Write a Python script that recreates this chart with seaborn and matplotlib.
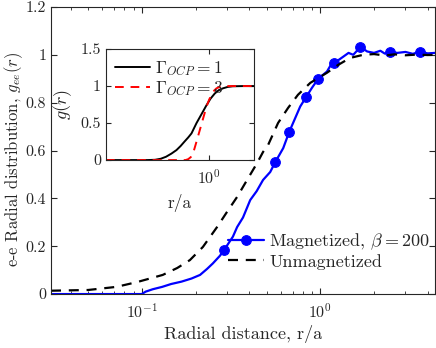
import numpy as np
import pandas as pd
import seaborn as sns
import matplotlib
matplotlib.use("Agg")
import matplotlib.pyplot as plt

# main panel: e-e radial distribution
mag_r = [0.031, 0.05, 0.08, 0.1, 0.105, 0.115, 0.13, 0.146, 0.167, 0.19, 0.212,
         0.232, 0.25, 0.274, 0.289, 0.324, 0.342, 0.369, 0.405, 0.44, 0.478, 0.524,
         0.56, 0.62, 0.67, 0.772, 0.834, 0.898, 0.974, 1.09, 1.14, 1.2, 1.35, 1.44,
         1.53, 1.68, 1.83, 2.0, 2.17, 2.3, 2.47, 2.7, 3.0, 3.3, 3.6, 4.0, 4.4]
mag_g = [0.0, 0.0, 0.0, 0.0, 0.01, 0.02, 0.03, 0.042, 0.052, 0.065, 0.08,
         0.105, 0.128, 0.16, 0.184, 0.24, 0.28, 0.32, 0.393, 0.43, 0.477, 0.51,
         0.552, 0.61, 0.678, 0.784, 0.824, 0.862, 0.90, 0.93, 0.955, 0.966, 0.993, 1.008,
         1.0, 1.033, 1.014, 1.008, 1.017, 1.005, 1.013, 1.008, 1.012, 1.004, 1.013, 1.006, 1.008]
mag_marks = [0.289, 0.56, 0.67, 0.834, 0.974, 1.2, 1.68, 2.47, 3.6]

unmag_r = [0.031, 0.05, 0.072, 0.094, 0.131, 0.158, 0.186, 0.22, 0.264, 0.30, 0.342,
           0.389, 0.443, 0.478, 0.51, 0.58, 0.66, 0.75, 0.88, 1.09, 1.26, 1.47, 1.74,
           2.0, 2.3, 2.6, 3.0, 3.5, 4.0, 4.4]
unmag_g = [0.014, 0.017, 0.03, 0.05, 0.08, 0.109, 0.142, 0.197, 0.28, 0.343, 0.406,
           0.477, 0.548, 0.594, 0.623, 0.715, 0.778, 0.833, 0.883, 0.925, 0.958, 0.987, 1.0,
           1.003, 0.997, 1.002, 0.998, 1.001, 0.999, 1.0]

# inset: OCP g(r)
ocp1_r = [0.2, 0.3, 0.38, 0.43, 0.47, 0.51, 0.555, 0.6, 0.64, 0.68, 0.72, 0.758,
          0.82, 0.886, 0.957, 1.02, 1.09, 1.16, 1.24, 1.33, 1.44, 1.7, 2.0]
ocp1_g = [0.0, 0.0, 0.0, 0.004, 0.018, 0.045, 0.088, 0.135, 0.19, 0.25, 0.305, 0.36,
          0.5, 0.62, 0.74, 0.83, 0.9, 0.945, 0.97, 0.988, 0.997, 1.0, 1.0]
ocp3_r = [0.2, 0.4, 0.6, 0.69, 0.72, 0.75, 0.777, 0.82, 0.863, 0.908, 0.957, 1.0,
          1.035, 1.08, 1.12, 1.21, 1.5, 2.0]
ocp3_g = [0.0, 0.0, 0.0, 0.0, 0.012, 0.04, 0.09, 0.25, 0.405, 0.56, 0.72, 0.82,
          0.88, 0.94, 0.97, 1.0, 1.0, 1.0]

sns.set_style("ticks")
plt.rcParams["font.family"] = ["cmr10", "DejaVu Serif"]
plt.rcParams["mathtext.fontset"] = "cm"
plt.rcParams["axes.formatter.use_mathtext"] = True
plt.rcParams["axes.unicode_minus"] = False
gray = "#262626"

fig = plt.figure(figsize=(4.36, 3.48), dpi=100)
ax = fig.add_axes([0.117, 0.155, 0.881, 0.825])

marks_idx = [mag_r.index(v) for v in mag_marks]
sns.lineplot(x=mag_r, y=mag_g, ax=ax, color="#0000ff", lw=1.6, marker="o", ms=7,
             markevery=marks_idx, mec="#0000ff", sort=False,
             label=r"Magnetized, $\beta = 200$")
sns.lineplot(x=unmag_r, y=unmag_g, ax=ax, color="black", lw=1.6, ls=(0, (4.5, 3.5)),
             sort=False, label="Unmagnetized")
ax.set_xscale("log")
ax.set_xlim(0.031, 4.4)
ax.set_ylim(0, 1.2)
ax.set_yticks([0, 0.2, 0.4, 0.6, 0.8, 1, 1.2])
ax.set_yticklabels(["0", "0.2", "0.4", "0.6", "0.8", "1", "1.2"])
ax.set_xlabel("Radial distance, r/a", fontsize=13, color=gray, labelpad=3)
ax.set_ylabel(r"e-e Radial distribution, $g_{ee}(r)$", fontsize=12, color=gray)
ax.yaxis.set_label_coords(-0.068, 0.47)
ax.tick_params(which="both", direction="in", top=True, right=True, colors=gray,
               labelsize=11.5)
ax.tick_params(axis="x", which="major", pad=6)
ax.tick_params(which="major", length=4)
ax.tick_params(which="minor", length=2.5)
for s in ax.spines.values():
    s.set_color(gray)
    s.set_linewidth(0.8)
ax.legend(loc="lower right", frameon=False, fontsize=13, handlelength=2.0,
          handletextpad=0.3, labelspacing=0.1, borderaxespad=0.0,
          bbox_to_anchor=(1.005, 0.06))

ins = fig.add_axes([0.243, 0.540, 0.339, 0.319])
sns.lineplot(x=ocp1_r, y=ocp1_g, ax=ins, color="black", lw=1.4, sort=False,
             label=r"$\Gamma_{OCP} = 1$")
sns.lineplot(x=ocp3_r, y=ocp3_g, ax=ins, color="#ff0000", lw=1.4, ls=(0, (4.5, 3.5)),
             sort=False, label=r"$\Gamma_{OCP} = 3$")
ins.set_xscale("log")
ins.set_xlim(0.2, 2)
ins.set_ylim(0, 1.5)
ins.set_xticks([1])
ins.xaxis.set_minor_locator(matplotlib.ticker.NullLocator())
ins.set_yticks([0, 0.5, 1, 1.5])
ins.set_yticklabels(["0", "0.5", "1", "1.5"])
ins.set_xlabel("r/a", fontsize=12.5, color=gray, labelpad=5)
ins.set_ylabel(r"$g(r)$", fontsize=13, color=gray, labelpad=5)
ins.tick_params(which="both", direction="in", top=True, right=True, colors=gray,
                labelsize=11.5, length=3.5)
ins.tick_params(axis="x", pad=6)
for s in ins.spines.values():
    s.set_color(gray)
    s.set_linewidth(0.8)
ins.legend(loc="upper left", frameon=False, fontsize=12.5, handlelength=2.0,
           handletextpad=0.3, labelspacing=0.1, borderaxespad=0.15)

fig.savefig("out.png", dpi=100)
